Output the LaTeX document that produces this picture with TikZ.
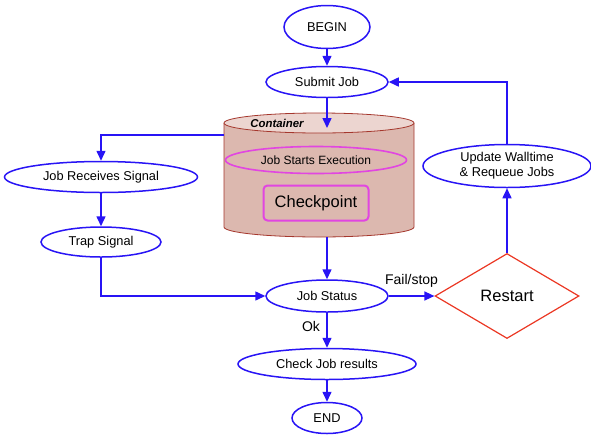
\documentclass[tikz,border=0pt]{standalone}
\usepackage{fontspec}
\setmainfont{Liberation Sans}
\usetikzlibrary{shapes.geometric,arrows.meta}
\definecolor{flowcolor0001}{RGB}{40,20,245}
\definecolor{flowcolor0002}{RGB}{235,55,35}
\definecolor{flowcolor0003}{RGB}{225,70,225}
\definecolor{flowcolor0004}{RGB}{220,184,175}
\definecolor{flowcolor0005}{RGB}{236,213,208}
\definecolor{flowcolor0006}{RGB}{165,55,45}
\begin{document}
\begin{tikzpicture}[yscale=-1
,fstyle0/.style={ellipse,draw=flowcolor0001,line width=1.5pt,inner sep=0pt,font=\fontsize{12.8pt}{15pt}\selectfont}
,fstyle1/.style={draw=flowcolor0001,line width=1.5pt,-{Triangle[length=10pt,width=9pt]}}
,fstyle2/.style={draw=flowcolor0003,line width=1.6pt,inner sep=0pt}
,fstyle3/.style={font=\fontsize{14pt}{16pt}\selectfont}
]
\useasboundingbox (0pt,0pt) rectangle (591pt,437pt);
% container
\draw[color=flowcolor0006,fill=flowcolor0004,line width=0.8pt] (224pt,123pt) -- (224pt,227pt) arc (180:0:95pt and 10pt) -- (414pt,123pt);
\draw[color=flowcolor0006,fill=flowcolor0005,line width=0.8pt] (319pt,123pt) ellipse (95pt and 10pt);
\node at (277pt,123pt)[font=\fontsize{11.4pt}{13pt}\selectfont\bfseries\itshape]{Container};
\coordinate (cyltop) at (327pt,128pt);
\coordinate (cylleft) at (224pt,135pt);
\coordinate (cylbot) at (327pt,237pt);
\node[fstyle2,ellipse,minimum width=181pt,minimum height=27pt,font=\fontsize{12pt}{14pt}\selectfont] (execution) at (316pt,160pt) {Job Starts Execution};
\node[fstyle2,rectangle,rounded corners=4pt,line width=2pt,minimum width=105pt,minimum height=35pt,font=\fontsize{16.5pt}{19pt}\selectfont] (checkpoint) at (316pt,203pt) {Checkpoint};
% flow
\node[fstyle0,minimum width=86pt,minimum height=43pt] (begin) at (327pt,27pt) {BEGIN};
\node[fstyle0,minimum width=122pt,minimum height=31pt] (submit) at (327pt,82pt) {Submit Job};
\node[fstyle0,minimum width=193pt,minimum height=31pt] (receives) at (101pt,177pt) {Job Receives Signal};
\node[fstyle0,minimum width=120pt,minimum height=30pt] (trap) at (101pt,242pt) {Trap Signal};
\node[fstyle0,minimum width=122pt,minimum height=32pt] (status) at (327pt,296pt) {Job Status};
\node[fstyle0,minimum width=178pt,minimum height=31pt] (check) at (327pt,364pt) {Check Job results};
\node[fstyle0,minimum width=70pt,minimum height=31pt] (end) at (327pt,418pt) {END};
\node[diamond,draw=flowcolor0002,line width=1.2pt,inner sep=0pt,minimum width=144pt,minimum height=85pt,font=\fontsize{16.5pt}{19pt}\selectfont] (restart) at (507pt,296pt) {Restart};
\node[fstyle0,minimum width=168pt,minimum height=43pt,align=center] (update) at (507pt,166pt) {Update Walltime\\\& Requeue Jobs};
\draw[fstyle1] (begin) -- (submit);
\draw[fstyle1] (submit) -- (cyltop);
\draw[fstyle1] (cylleft) -| (receives);
\draw[fstyle1] (receives) -- (trap);
\draw[fstyle1] (trap) |- (status);
\draw[fstyle1] (cylbot) -- (status);
\draw[fstyle1] (status) -- (restart) node[midway,above=5pt,fstyle3]{Fail/stop};
\draw[fstyle1] (restart) -- (update);
\draw[fstyle1] (update) |- (submit);
\draw[fstyle1] (status) -- (check) node[pos=0.4,left=3pt,fstyle3]{Ok};
\draw[fstyle1] (check) -- (end);
\end{tikzpicture}
\end{document}
